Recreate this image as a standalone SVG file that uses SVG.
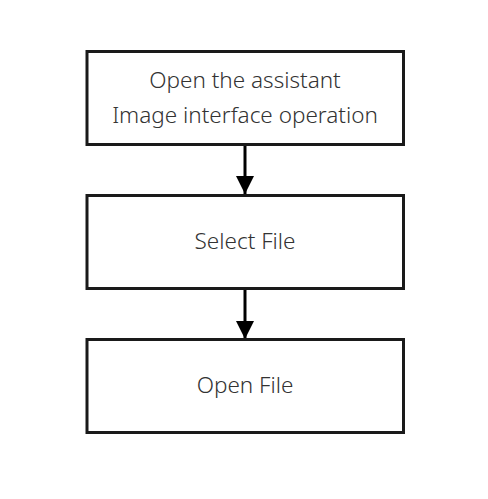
<svg xmlns="http://www.w3.org/2000/svg" width="488" height="499" viewBox="0 0 488 499">
<style>
.box{fill:#fff;stroke:#1a1a1a;stroke-width:3}
.lbl{font-family:"Noto Sans","Open Sans",sans-serif;font-size:22.5px;font-weight:300;fill:#333;text-anchor:middle}
.edge{stroke:#000;stroke-width:3;fill:none}
</style>
<defs>
<marker id="ah" markerWidth="6" markerHeight="6" refX="6" refY="3" orient="auto" markerUnits="strokeWidth">
<path d="M0,0 L6,3 L0,6 Z" fill="#000"/>
</marker>
</defs>
<rect width="488" height="499" fill="#fff"/>
<g id="connectors">
<line class="edge" x1="245" y1="145" x2="245" y2="194" marker-end="url(#ah)"/>
<line class="edge" x1="245" y1="290" x2="245" y2="339" marker-end="url(#ah)"/>
</g>
<g id="n1">
<rect class="box" x="87" y="51.5" width="316.5" height="93"/>
<text class="lbl" x="245" y="88">Open the assistant</text>
<text class="lbl" x="245" y="123">Image interface operation</text>
</g>
<g id="n2">
<rect class="box" x="87" y="195.5" width="316.5" height="93"/>
<text class="lbl" x="245" y="249">Select File</text>
</g>
<g id="n3">
<rect class="box" x="87" y="339.5" width="316.5" height="93"/>
<text class="lbl" x="245" y="393">Open File</text>
</g>
</svg>
